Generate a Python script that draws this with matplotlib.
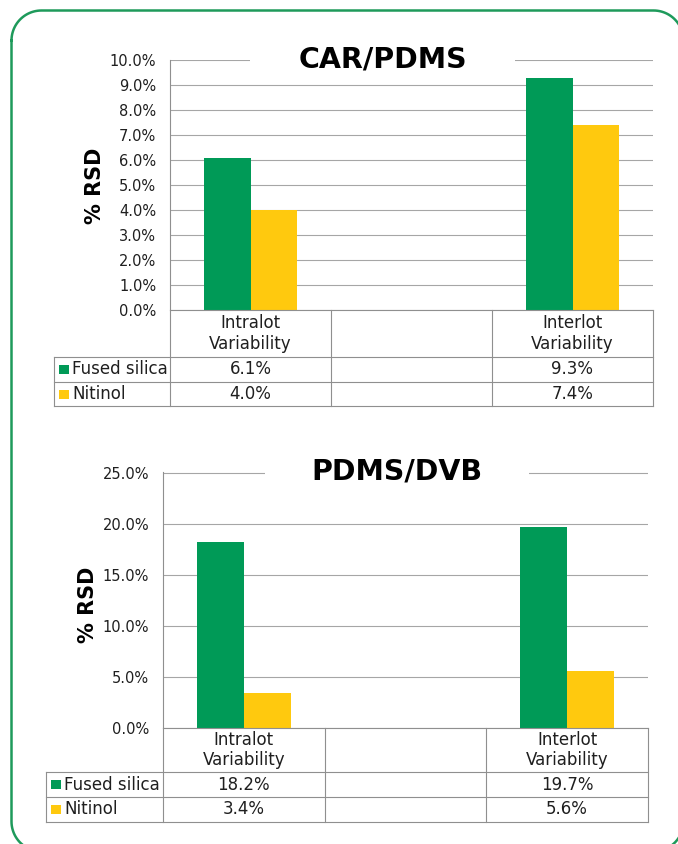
import numpy as np
import matplotlib
matplotlib.use("Agg")
import matplotlib.pyplot as plt
from matplotlib import transforms
from matplotlib.lines import Line2D
from matplotlib.patches import Rectangle
from matplotlib.ticker import PercentFormatter, MultipleLocator

# data, % RSD (middle category is an empty spacer column)
categories = ["Intralot\nVariability", "", "Interlot\nVariability"]
series = ["Fused silica", "Nitinol"]
car_fused = [6.1, None, 9.3]
car_nitinol = [4.0, None, 7.4]
dvb_fused = [18.2, None, 19.7]
dvb_nitinol = [3.4, None, 5.6]

GREEN = "#009A57"
YELLOW = "#FFC90E"
GRID = "#A6A6A6"
LINE = "#8F8F8F"
TXT = "#1F1F1F"

plt.rcParams["font.family"] = "DejaVu Sans"

W, H = 678, 844
fig = plt.figure(figsize=(W / 100, H / 100), dpi=100)
# transform for image pixel coordinates (origin top-left)
pix = transforms.Affine2D().scale(1 / W, -1 / H).translate(0, 1) + fig.transFigure


def rounded_outline(x0, y0, x1, y1, r, n=24):
    # corner arcs as plain segments (curves get mangled when clipped at the canvas edge)
    pts = []
    for cx, cy, a0 in [(x0 + r, y0 + r, 180), (x1 - r, y0 + r, 270),
                       (x1 - r, y1 - r, 0), (x0 + r, y1 - r, 90)]:
        t = np.radians(np.linspace(a0, a0 + 90, n))
        pts.append(np.column_stack([cx + r * np.cos(t), cy + r * np.sin(t)]))
    pts = np.vstack(pts + [pts[0][:1]])
    return pts[:, 0], pts[:, 1]


# rounded green frame (runs off the right and bottom edges)
fx, fy = rounded_outline(11.5, 10.5, 683.5, 851.5, 30)
fig.add_artist(Line2D(fx, fy, transform=pix, color="#1E9A5B", lw=1.8))


def draw_chart(box, ymax, ystep, title, title_pos, gap, ylabel_pos, rows, tab_left, fused, nitinol):
    left, top, right, bottom = box
    ax = fig.add_axes([left / W, 1 - bottom / H, (right - left) / W, (bottom - top) / H])
    x = np.arange(len(categories))
    w = 0.29
    idx = [i for i, v in enumerate(fused) if v is not None]
    ax.bar(x[idx] - w / 2, [fused[i] for i in idx], w, color=GREEN, zorder=2)
    ax.bar(x[idx] + w / 2, [nitinol[i] for i in idx], w, color=YELLOW, zorder=2)

    ax.set_xlim(-0.5, len(categories) - 0.5)
    ax.set_ylim(0, ymax * 1.002)
    ax.yaxis.set_major_locator(MultipleLocator(ystep))
    ax.yaxis.set_major_formatter(PercentFormatter(100, decimals=1))
    ax.tick_params(axis="y", length=0, pad=10, labelsize=10.5, labelcolor=TXT)
    ax.set_xticks([])
    for s in ["top", "right"]:
        ax.spines[s].set_visible(False)
    ax.spines["left"].set_color(LINE)
    ax.spines["bottom"].set_color(LINE)
    ax.spines["left"].set_linewidth(0.8)
    ax.spines["bottom"].set_linewidth(0.8)
    ax.set_axisbelow(True)
    ax.yaxis.grid(True, color=GRID, linewidth=0.8)

    # title sits on the top gridline, which is cut around it
    ax.add_patch(Rectangle((gap[0], top - 4), gap[1] - gap[0], 8, transform=pix,
                           facecolor="white", edgecolor="none", zorder=1, clip_on=False))
    ax.text(title_pos[0], title_pos[1], title, transform=pix, ha="center", va="baseline",
            fontsize=20.5, fontweight="bold", color="black")
    ax.text(ylabel_pos[0], ylabel_pos[1], "% RSD", transform=pix, rotation=90,
            ha="center", va="center", fontsize=15, fontweight="bold", color="black")

    # data table under the axis
    bl = transforms.blended_transform_factory(ax.transData, pix)
    hdr, r1, r2 = rows
    for xb in np.arange(len(categories) + 1) - 0.5:
        ax.add_line(Line2D([xb, xb], [bottom, r2], transform=bl, color=LINE, lw=0.8, clip_on=False))
    for yy in [hdr, r1, r2]:
        ax.add_line(Line2D([tab_left, right], [yy, yy], transform=pix, color=LINE, lw=0.8, clip_on=False))
    ax.add_line(Line2D([tab_left, tab_left], [hdr, r2], transform=pix, color=LINE, lw=0.8, clip_on=False))

    for i, cat in enumerate(categories):
        ax.text(i, (bottom + hdr) / 2, cat, transform=bl, ha="center", va="center",
                fontsize=12, color=TXT, linespacing=1.15)

    row_mid = [(hdr + r1) / 2, (r1 + r2) / 2]
    for name, vals, col, ym in zip(series, [fused, nitinol], [GREEN, YELLOW], row_mid):
        ax.add_patch(Rectangle((tab_left + 5, ym - 4.5), 10, 9, transform=pix,
                               facecolor=col, edgecolor="none", clip_on=False))
        ax.text(tab_left + 18, ym, name, transform=pix, ha="left", va="center",
                fontsize=12, color=TXT)
        for i, v in enumerate(vals):
            if v is not None:
                ax.text(i, ym, f"{v:.1f}%", transform=bl, ha="center", va="center",
                        fontsize=12, color=TXT)
    return ax


draw_chart((170, 60, 653, 310), 10, 1, "CAR/PDMS", (382.5, 68), (250, 515), (95, 185.5),
           (357, 382, 406), 54, car_fused, car_nitinol)
draw_chart((163, 472, 648, 728), 25, 5, "PDMS/DVB", (397, 479), (265, 529), (88.5, 605),
           (772, 797, 822), 46, dvb_fused, dvb_nitinol)

plt.savefig("out.png", dpi=100)
